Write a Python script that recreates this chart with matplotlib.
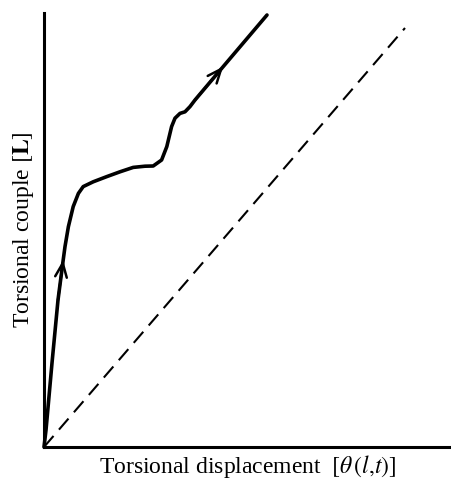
import matplotlib
matplotlib.use("Agg")
import matplotlib.pyplot as plt

# Torsional couple vs displacement (arbitrary units)
disp = [0.0, 0.5, 2.0, 3.5, 4.8, 5.25, 6.1, 7.3, 8.6, 9.8, 12.3, 15.7, 19.0,
        22.3, 25.25, 27.3, 29.4, 30.7, 31.9, 32.75, 34.0, 35.25, 36.5, 37.75,
        44.8, 55.75]
couple = [0.0, 4.25, 21.0, 36.75, 46.75, 50.1, 55.1, 60.1, 63.4, 65.1, 66.3,
          67.6, 68.8, 69.9, 70.2, 70.25, 71.75, 75.1, 80.1, 82.2, 83.4, 83.8,
          85.1, 86.75, 95.1, 108.0]

# elastic reference line (dashed)
ref_disp = [0.0, 90.25]
ref_couple = [0.0, 104.75]

# arrowhead locations on the curve (index into the curve above)
arrow_idx = [4, 24]

plt.rcParams['mathtext.fontset'] = 'stix'
plt.rcParams['font.family'] = 'Liberation Serif'

fig = plt.figure(figsize=(4.51, 4.83), dpi=100)
ax = fig.add_axes([44 / 451, 36 / 483, 407 / 451, 434 / 483])

ax.plot(disp, couple, color='black', linewidth=2.6,
        solid_joinstyle='round', solid_capstyle='round', clip_on=False)
ax.plot(ref_disp, ref_couple, color='black', linewidth=1.5,
        dashes=(7, 4), clip_on=False)

for i in arrow_idx:
    ax.annotate('', xy=(disp[i], couple[i]), xytext=(disp[i - 1], couple[i - 1]),
                arrowprops=dict(arrowstyle='->,head_length=1.0,head_width=0.42',
                                color='black', lw=1.8, shrinkA=0, shrinkB=0))

ax.set_xlim(0, 101.75)
ax.set_ylim(0, 108.5)
for side in ('top', 'right'):
    ax.spines[side].set_visible(False)
for side in ('left', 'bottom'):
    ax.spines[side].set_linewidth(2.2)
ax.set_xticks([])
ax.set_yticks([])

ax.set_xlabel(r'Torsional displacement  $[\theta\,(l{,}t)]$', fontsize=17, labelpad=4)
ax.set_ylabel(r'Torsional couple $[\mathbf{L}]$', fontsize=17, labelpad=6)

fig.savefig('out.png', dpi=100)
